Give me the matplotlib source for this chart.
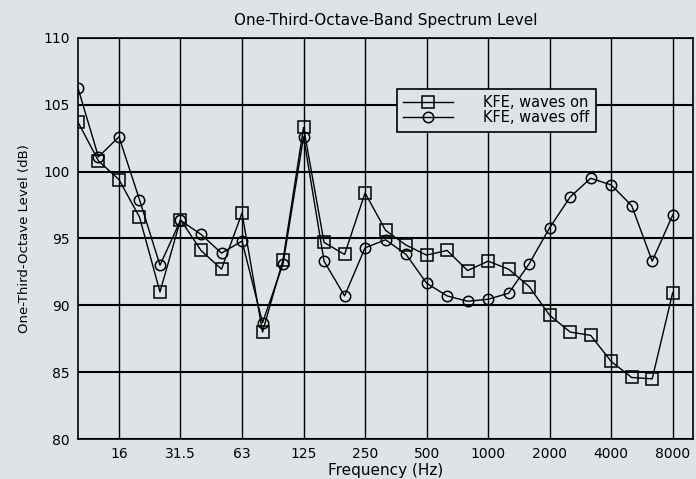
import matplotlib
matplotlib.use("Agg")
import matplotlib.pyplot as plt

plt.rcParams['font.family'] = ['DejaVu Sans']

bands = ["10", "12.5", "16", "20", "25", "31.5", "40", "50", "63", "80", "100", "125",
         "160", "200", "250", "315", "400", "500", "630", "800", "1000", "1250", "1600",
         "2000", "2500", "3150", "4000", "5000", "6300", "8000"]
waves_on = [103.7, 100.8, 99.4, 96.6, 91.0, 96.4, 94.1, 92.7, 96.9, 88.0, 93.4, 103.3,
            94.7, 93.8, 98.4, 95.6, 94.5, 93.75, 94.1, 92.6, 93.3, 92.7, 91.4,
            89.25, 88.0, 87.75, 85.8, 84.6, 84.5, 90.95]
waves_off = [106.25, 101.1, 102.6, 97.9, 93.0, 96.35, 95.3, 93.9, 94.8, 88.7, 93.1, 102.6,
             93.3, 90.7, 94.3, 94.9, 93.8, 91.65, 90.7, 90.3, 90.45, 90.9, 93.1,
             95.8, 98.1, 99.5, 99.0, 97.45, 93.3, 96.75]
tick_labels = ["16", "31.5", "63", "125", "250", "500", "1000", "2000", "4000", "8000"]
y_ticks = [80, 85, 90, 95, 100, 105, 110]

bg = "#dde3e6"
fig = plt.figure(figsize=(6.96, 4.79), dpi=100, facecolor=bg)
ax = fig.add_axes([0.112, 0.0835, 0.884, 0.8375], facecolor=bg)

x = list(range(len(bands)))
ax.plot(x, waves_on, color="black", lw=1.0, marker="s", ms=9,
        mfc="none", mec="black", mew=1.1, label="KFE, waves on", zorder=3)
ax.plot(x, waves_off, color="black", lw=1.0, marker="o", ms=7.5,
        mfc="none", mec="black", mew=1.1, label="KFE, waves off", zorder=3)

ax.set_xlim(0, len(bands))
ax.set_ylim(80, 110)
tick_pos = [bands.index(t) for t in tick_labels]
ax.set_xticks(tick_pos)
ax.set_xticklabels(tick_labels)
ax.set_yticks(y_ticks)
ax.tick_params(length=0, labelsize=10, pad=6)
ax.xaxis.grid(True, color="black", lw=1.0)
ax.yaxis.grid(True, color="black", lw=1.5)
for s in ax.spines.values():
    s.set_color("black")
    s.set_linewidth(1.2)

ax.set_title("One-Third-Octave-Band Spectrum Level", fontsize=11, pad=9)
ax.set_xlabel("Frequency (Hz)", fontsize=11, labelpad=1)
ax.set_ylabel("One-Third-Octave Level (dB)", fontsize=9.5, labelpad=9)

leg = ax.legend(loc="upper left", bbox_to_anchor=(0.518, 0.873), borderaxespad=0,
                fontsize=10.5, frameon=True, fancybox=False, edgecolor="black",
                facecolor=bg, framealpha=1, borderpad=0.45, labelspacing=0.0,
                handlelength=3.4, handletextpad=2.1)
leg.get_frame().set_linewidth(1.2)

fig.savefig("out.png", dpi=100, facecolor=bg)
